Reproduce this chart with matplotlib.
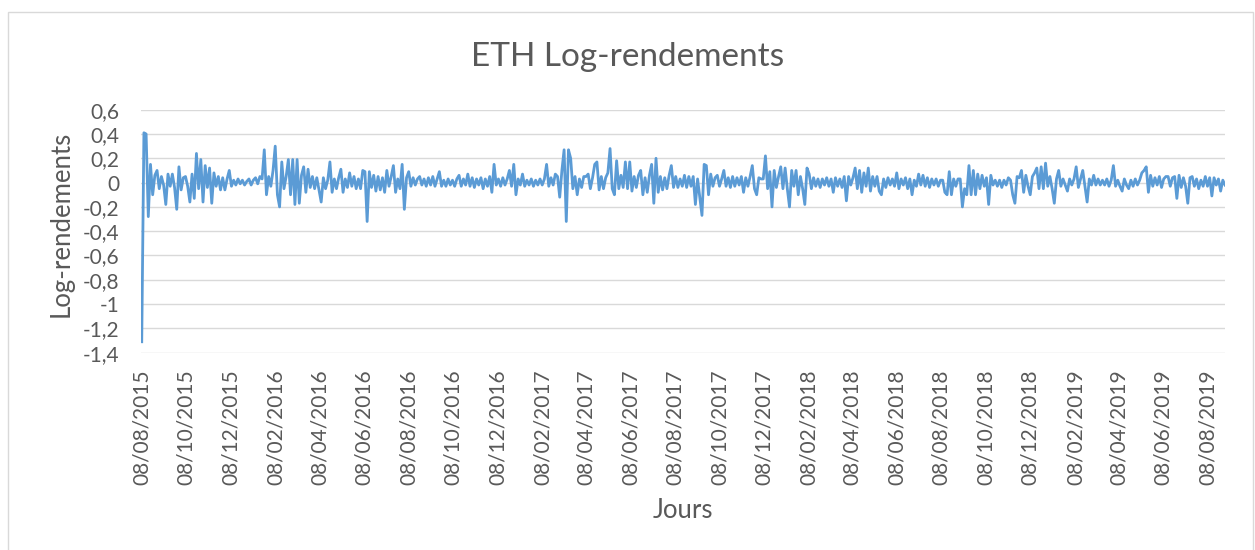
import numpy as np
import pandas as pd
import matplotlib
matplotlib.use("Agg")
import matplotlib.pyplot as plt
from matplotlib.patches import Rectangle

plt.rcParams['font.family'] = ['Lato', 'DejaVu Sans']
plt.rcParams['axes.unicode_minus'] = False

# ---------------- data (one value every 3 days) ----------------
start_date = "2015-08-08"
step_days = 3
log_returns = [
    # 08/2015 - 10/2015
    -1.31, 0.41, 0.40, -0.28, 0.15, -0.10, 0.06, 0.10, -0.05, 0.05, -0.02, -0.18, 0.07, -0.03, 0.07, -0.04, -0.22, 0.13, -0.06, 0.04,
    # 10/2015 - 12/2015
    0.05, -0.03, -0.16, 0.07, -0.13, 0.24, -0.05, 0.19, -0.16, 0.14, -0.04, 0.12, -0.17, 0.08, -0.03, 0.05, -0.06, 0.04, -0.06, 0.03,
    # 12/2015 - 02/2016
    0.10, -0.03, 0.02, -0.02, 0.03, -0.01, 0.02, -0.02, 0.01, 0.03, -0.02, 0.02, 0.04, -0.01, 0.05, 0.03, 0.27, -0.10, 0.05, -0.03, 0.10,
    # 02/2016 - 04/2016
    0.30, -0.10, -0.20, 0.17, -0.05, 0.05, 0.19, -0.10, 0.19, -0.18, 0.19, -0.17, 0.06, 0.13, -0.08, 0.11, -0.04, 0.05, -0.05, 0.04,
    # 04/2016 - 06/2016
    -0.06, -0.16, 0.04, -0.05, 0.02, 0.17, -0.08, 0.03, -0.05, 0.04, 0.11, -0.08, 0.03, -0.04, 0.08, -0.03, 0.05, -0.05, 0.03, -0.05,
    # 06/2016 - 08/2016
    0.10, 0.09, -0.32, 0.09, -0.04, 0.06, -0.07, 0.05, -0.06, 0.04, -0.08, 0.10, -0.03, 0.05, 0.14, -0.08, 0.03, -0.05, 0.15, -0.22, 0.04,
    # 08/2016 - 10/2016
    0.09, -0.03, 0.04, -0.02, 0.03, 0.05, -0.02, 0.03, -0.03, 0.04, -0.02, 0.05, -0.03, 0.03, 0.09, -0.03, 0.02, -0.03, 0.03, -0.02,
    # 10/2016 - 12/2016
    0.02, -0.03, 0.03, 0.06, -0.03, 0.03, -0.02, 0.07, -0.03, 0.04, -0.04, 0.03, -0.02, 0.04, -0.05, 0.03, -0.03, 0.05, -0.08, 0.15,
    # 12/2016 - 02/2017
    -0.02, 0.03, -0.03, 0.04, -0.02, 0.03, 0.10, -0.03, 0.15, -0.10, 0.03, -0.02, 0.07, -0.03, 0.02, -0.02, 0.03, -0.03, 0.02, -0.02, 0.03,
    # 02/2017 - 04/2017
    -0.02, 0.03, 0.15, -0.03, 0.04, -0.02, 0.07, 0.05, -0.12, 0.10, 0.27, -0.32, 0.27, 0.20, -0.05, 0.05, -0.10, 0.03, -0.04, 0.05,
    # 04/2017 - 06/2017
    0.05, 0.07, -0.05, 0.04, 0.15, 0.17, -0.06, 0.05, -0.05, 0.04, 0.08, 0.28, -0.05, -0.10, 0.18, -0.05, 0.06, -0.04, 0.17, -0.05,
    # 06/2017 - 08/2017
    0.17, -0.07, 0.05, -0.04, 0.06, 0.10, -0.10, 0.04, -0.08, 0.06, 0.15, -0.17, 0.20, -0.08, 0.05, -0.06, 0.04, -0.05, 0.06, 0.14, -0.04,
    # 08/2017 - 10/2017
    0.05, -0.04, 0.03, -0.03, 0.06, -0.04, 0.05, -0.03, 0.05, -0.18, 0.03, -0.12, -0.27, 0.15, 0.14, -0.10, 0.07, -0.03, 0.04, 0.06,
    # 10/2017 - 12/2017
    -0.03, 0.03, 0.10, -0.03, 0.04, -0.04, 0.05, -0.03, 0.04, -0.02, 0.05, -0.08, 0.04, -0.03, 0.05, 0.14, -0.05, -0.10, 0.04, 0.03,
    # 12/2017 - 02/2018
    0.03, 0.22, -0.05, 0.09, -0.20, 0.10, -0.04, 0.05, 0.13, -0.05, 0.12, -0.05, -0.20, 0.10, -0.03, 0.10, -0.10, 0.05, -0.05, -0.18, 0.12,
    # 02/2018 - 04/2018
    0.07, -0.05, 0.04, -0.03, 0.03, -0.04, 0.03, -0.02, 0.04, -0.03, 0.03, -0.08, 0.04, -0.03, 0.03, -0.04, 0.05, -0.15, 0.05, -0.02,
    # 04/2018 - 06/2018
    0.04, 0.12, -0.05, 0.10, -0.08, 0.08, -0.03, 0.12, -0.07, 0.05, -0.03, 0.05, -0.07, -0.10, 0.03, -0.04, 0.04, -0.02, 0.03, -0.03,
    # 06/2018 - 08/2018
    0.08, -0.05, 0.03, -0.02, 0.04, -0.05, 0.03, -0.10, 0.02, -0.03, 0.07, -0.02, 0.06, -0.03, 0.04, -0.04, 0.03, -0.02, 0.03, -0.03, 0.02,
    # 08/2018 - 10/2018
    0.02, -0.08, -0.10, 0.09, -0.10, 0.03, -0.03, 0.03, 0.03, -0.20, -0.05, -0.10, 0.14, -0.10, 0.10, -0.10, 0.07, -0.05, 0.06, -0.03,
    # 10/2018 - 12/2018
    0.04, -0.18, 0.06, -0.02, 0.02, -0.03, 0.02, -0.04, 0.02, -0.02, 0.04, 0.02, -0.10, -0.17, 0.05, 0.04, 0.10, -0.08, 0.06, -0.03, -0.10,
    # 12/2018 - 02/2019
    0.05, 0.08, 0.12, -0.05, 0.13, -0.05, 0.16, -0.03, 0.05, -0.05, -0.17, 0.03, 0.10, -0.03, 0.03, -0.02, -0.07, 0.03, -0.02, 0.03,
    # 02/2019 - 04/2019
    0.13, -0.04, 0.03, 0.10, -0.03, -0.16, 0.03, -0.02, 0.06, -0.02, 0.03, -0.02, 0.02, -0.02, 0.03, -0.03, 0.02, 0.14, -0.03, 0.02,
    # 04/2019 - 06/2019
    -0.03, -0.07, 0.03, -0.02, -0.05, 0.02, -0.03, 0.03, -0.02, 0.02, 0.08, 0.10, 0.13, -0.08, 0.06, -0.03, 0.04, -0.02, 0.05, -0.04, 0.03,
    # 06/2019 - 08/2019
    0.05, 0.05, -0.03, 0.04, 0.05, -0.13, 0.06, -0.04, 0.04, -0.03, -0.17, 0.04, 0.05, -0.03, 0.03, -0.05, 0.02, -0.03, 0.05, -0.03,
    # 08/2019 - end
    0.04, -0.11, 0.04, -0.02, 0.03, -0.07, 0.02, -0.02,
]

x_tick_labels = ["08/08/2015", "08/10/2015", "08/12/2015", "08/02/2016", "08/04/2016",
                 "08/06/2016", "08/08/2016", "08/10/2016", "08/12/2016", "08/02/2017",
                 "08/04/2017", "08/06/2017", "08/08/2017", "08/10/2017", "08/12/2017",
                 "08/02/2018", "08/04/2018", "08/06/2018", "08/08/2018", "08/10/2018",
                 "08/12/2018", "08/02/2019", "08/04/2019", "08/06/2019", "08/08/2019"]
y_ticks = [0.6, 0.4, 0.2, 0, -0.2, -0.4, -0.6, -0.8, -1, -1.2, -1.4]
y_tick_labels = ["0,6", "0,4", "0,2", "0", "-0,2", "-0,4", "-0,6", "-0,8", "-1", "-1,2", "-1,4"]

title = "ETH Log-rendements"
x_label = "Jours"
y_label = "Log-rendements"

# ---------------- figure ----------------
W, H = 1255, 550
fig = plt.figure(figsize=(W / 100, H / 100), dpi=100)
fig.patch.set_facecolor("white")

# chart border
fig.add_artist(Rectangle((8 / W, -0.05), (1253 - 8) / W, 1.05 - 12 / H,
                         transform=fig.transFigure, fill=False,
                         edgecolor="#d9d9d9", linewidth=1.0))

left, right, top, bottom = 141, 1225, 109.7, 352.7
ax = fig.add_axes([left / W, 1 - bottom / H, (right - left) / W, (bottom - top) / H])

dates = pd.Timestamp(start_date) + pd.to_timedelta(np.arange(len(log_returns)) * step_days, unit="D")
ax.plot(dates, log_returns, color="#5B9BD5", linewidth=2.0, solid_joinstyle="round")

ax.set_ylim(-1.4, 0.6)
ax.set_xlim(dates[0] - pd.Timedelta(days=1), dates[-1])
ax.set_yticks(y_ticks)
ax.set_yticklabels(y_tick_labels)
tick_dates = pd.to_datetime(x_tick_labels, format="%d/%m/%Y")
ax.set_xticks(tick_dates)
ax.set_xticklabels(x_tick_labels, rotation=90)

ax.grid(axis="y", color="#d9d9d9", linewidth=1.0)
ax.set_axisbelow(True)
for s in ax.spines.values():
    s.set_visible(False)
ax.tick_params(axis="both", length=0, colors="#595959", labelsize=15)
ax.tick_params(axis="y", pad=15.6)
ax.tick_params(axis="x", pad=12)

fig.text(0.5, 1 - 57 / H, title, ha="center", va="center", fontsize=24, color="#595959")
fig.text(61 / W, 1 - 224 / H, y_label, ha="center", va="center", rotation=90, fontsize=18.5, color="#595959")
fig.text(683 / W, 1 - 510 / H, x_label, ha="center", va="center", fontsize=18.5, color="#595959")

fig.savefig("out.png", dpi=100, facecolor="white")
